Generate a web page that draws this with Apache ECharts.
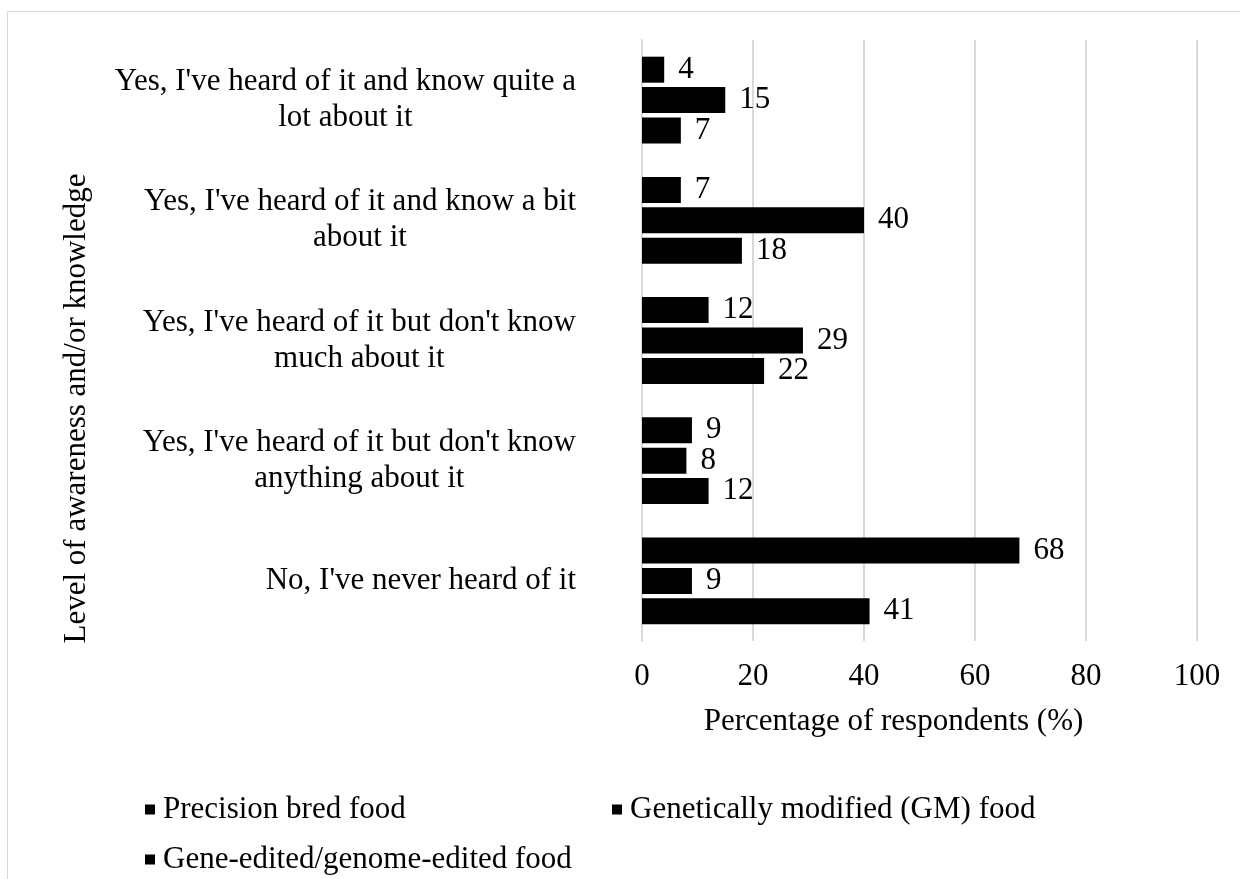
<!DOCTYPE html>
<html lang="en">
<head>
    <meta charset="UTF-8">
    <title>Level of awareness and/or knowledge</title>
    <script src="https://cdn.jsdelivr.net/npm/echarts@6/dist/echarts.min.js"></script>
    <style>
        html, body { margin: 0; padding: 0; background: #fff; }
    </style>
</head>
<body>
    <div id="chart" style="width: 1240px; height: 879px;"></div>

    <script>
        var categorias = [
            "Yes, I've heard of it and know quite a\nlot about it",
            "Yes, I've heard of it and know a bit\nabout it",
            "Yes, I've heard of it but don't know\nmuch about it",
            "Yes, I've heard of it but don't know\nanything about it",
            "No, I've never heard of it"
        ];
        var precisionBred = [4, 7, 12, 9, 68];
        var geneticallyModified = [15, 40, 29, 8, 9];
        var geneEdited = [7, 18, 22, 12, 41];
        var xTicks = [0, 20, 40, 60, 80, 100];

        var fonte = '"Liberation Serif", "Times New Roman", serif';
        var chart = echarts.init(document.getElementById('chart'));

        function serie(nome, dados) {
            return {
                name: nome,
                type: 'bar',
                data: dados,
                barWidth: 26,
                barGap: '17%',
                itemStyle: { color: '#000' },
                label: {
                    show: true,
                    position: 'right',
                    distance: 14,
                    color: '#000',
                    fontFamily: fonte,
                    fontSize: 31
                }
            };
        }

        function legenda(nome, left, top) {
            return {
                data: [nome],
                left: left,
                top: top,
                icon: 'rect',
                itemWidth: 10,
                itemHeight: 10,
                selectedMode: false,
                textStyle: { fontFamily: fonte, fontSize: 31, color: '#000', padding: [0, 0, 0, 3] }
            };
        }

        chart.setOption({
            animation: false,
            textStyle: { fontFamily: fonte },
            graphic: [{
                type: 'rect',
                shape: { x: 7.5, y: 11.5, width: 1260, height: 900 },
                style: { fill: 'none', stroke: '#d9d9d9', lineWidth: 1 },
                silent: true
            }],
            grid: { left: 642, right: 43, top: 40, bottom: 238 },
            legend: [
                legenda('Precision bred food', 140, 789),
                legenda('Genetically modified (GM) food', 607, 789),
                legenda('Gene-edited/genome-edited food', 140, 839)
            ],
            xAxis: {
                type: 'value',
                min: 0,
                max: 100,
                interval: 20,
                name: 'Percentage of respondents (%)',
                nameLocation: 'middle',
                nameGap: 65,
                nameTextStyle: { fontFamily: fonte, fontSize: 31, color: '#000', padding: [0, 52, 0, 0] },
                axisLine: { show: false },
                axisTick: { show: false },
                axisLabel: {
                    margin: 20,
                    fontFamily: fonte,
                    fontSize: 31,
                    color: '#000',
                    formatter: function (v) { return xTicks.indexOf(v) >= 0 ? String(v) : ''; }
                },
                splitLine: { lineStyle: { color: '#d9d9d9', width: 2 } }
            },
            yAxis: {
                type: 'category',
                inverse: true,
                data: categorias,
                name: 'Level of awareness and/or knowledge',
                nameLocation: 'middle',
                nameRotate: 90,
                nameGap: 550,
                nameTextStyle: { fontFamily: fonte, fontSize: 31, color: '#000', padding: [0, 136, 0, 0] },
                axisLine: { lineStyle: { color: '#d9d9d9', width: 2 } },
                axisTick: { length: 9, lineStyle: { color: '#d9d9d9', width: 2 } },
                axisLabel: {
                    margin: 66,
                    formatter: function (v) {
                        return v.split('\n').map(function (l) { return '{c|' + l + '}'; }).join('\n');
                    },
                    rich: {
                        c: {
                            align: 'center',
                            fontFamily: fonte,
                            fontSize: 31,
                            lineHeight: 36,
                            color: '#000'
                        }
                    }
                }
            },
            series: [
                serie('Precision bred food', precisionBred),
                serie('Genetically modified (GM) food', geneticallyModified),
                serie('Gene-edited/genome-edited food', geneEdited)
            ]
        });
    </script>
</body>
</html>
